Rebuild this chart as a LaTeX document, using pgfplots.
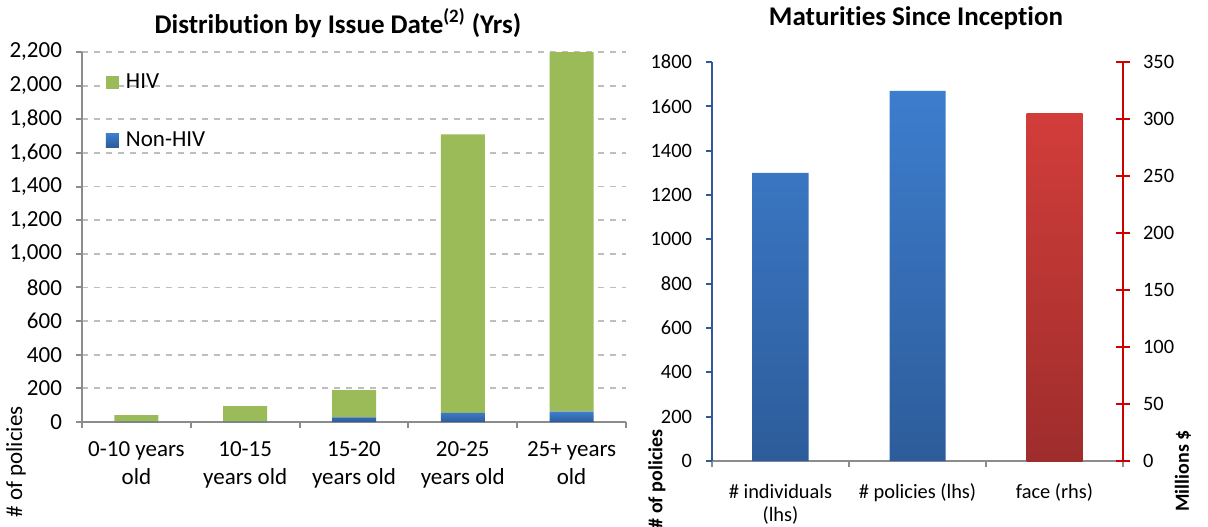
\documentclass[border=0pt]{standalone}
\usepackage{pgfplots}
\pgfplotsset{compat=1.18}
\usepackage{fontspec}
\setmainfont{Carlito}[Ligatures={NoCommon,NoDiscretionary}]
% keep "ti" as two separate letters
\newcommand*\ti{t\kern0pt i}

\definecolor{hivgreen}{HTML}{9BBB59}
\definecolor{blueTop}{HTML}{3D7DCE}
\definecolor{blueBot}{HTML}{2D5C9A}
\definecolor{redTop}{HTML}{D23D3A}
\definecolor{redBot}{HTML}{9E2D2C}
\definecolor{axisgray}{HTML}{8C8C8C}
\definecolor{gridgray}{HTML}{BEBEBE}
\definecolor{lhsblue}{HTML}{2F5A9A}
\definecolor{rhsred}{HTML}{D00000}

\begin{document}
\begin{tikzpicture}
\useasboundingbox (0,0) rectangle (604pt,263pt);

% ---------- Distribution by issue date (stacked) ----------
\begin{axis}[
  at={(41pt,52pt)}, anchor=south west,
  scale only axis, width=272pt, height=185pt,
  ybar stacked, bar width=22pt,
  xmin=-0.5, xmax=4.5, ymin=0, ymax=2200,
  ytick={0,200,...,2200},
  xtick={-0.5,0.5,...,4.5}, xticklabels=\empty,
  extra x ticks={0,1,2,3,4},
  extra x tick labels={0-10 years\\old, 10-15\\years old, 15-20\\years old, 20-25\\years old, 25+ years\\old},
  extra x tick style={major tick length=0pt,
    xticklabel style={align=center, font=\fontsize{11.5}{14}\selectfont, yshift=-6pt}},
  axis lines*=left,
  axis line style={axisgray, line width=1pt},
  tick style={axisgray, line width=1pt},
  tick align=outside, major tick length=3pt,
  ymajorgrids, grid style={gridgray, dashed, line width=0.9pt},
  yticklabel style={font=\fontsize{11.5}{14}\selectfont, xshift=-3.5pt},
  legend cell align=left,
  reverse legend,
  legend style={at={(0.043,0.953)}, anchor=north west, draw=none, fill=none,
    inner sep=0pt, row sep=16pt,
    /tikz/every odd column/.append style={column sep=1.5pt},
    font=\fontsize{11.5}{14}\selectfont},
  legend image code/.code={\path[#1] (0pt,-3.3pt) rectangle (6.6pt,3.3pt);},
  /pgf/number format/1000 sep={,},
  /pgf/number format/assume math mode=true,
]
\addplot[draw=none, top color=blueTop, bottom color=blueBot]
  coordinates {(0,2) (1,3) (2,28) (3,55) (4,61)};
\addplot[draw=none, fill=hivgreen]
  coordinates {(0,39) (1,92) (2,162) (3,1655) (4,2139)};
\legend{Non-HIV, HIV}
\end{axis}

\node[font=\bfseries\fontsize{13.5}{16}\selectfont] at (169pt,251.5pt)
  {Distribu\ti on by Issue Date\textsuperscript{(2)} (Yrs)};
\node[rotate=90, font=\fontsize{11.5}{14}\selectfont] at (8pt,32pt) {\# of policies};

% ---------- Maturities since inception: left scale ----------
\begin{axis}[
  at={(356pt,32.5pt)}, anchor=south west,
  scale only axis, width=205.5pt, height=199.5pt,
  ybar, bar width=28pt,
  xmin=-0.5, xmax=2.5, ymin=0, ymax=1800,
  ytick={0,200,...,1800},
  xtick={-0.5,0.5,...,2.5}, xticklabels=\empty,
  extra x ticks={0,1,2},
  extra x tick labels={\# individuals\\(lhs), \# policies (lhs), face (rhs)},
  extra x tick style={major tick length=0pt,
    xticklabel style={align=center, font=\fontsize{10.2}{11.5}\selectfont, yshift=-8pt}},
  axis x line*=bottom, axis y line*=left,
  x axis line style={axisgray, line width=1pt},
  y axis line style={lhsblue, line width=1pt},
  xtick style={axisgray, line width=1pt},
  ytick style={lhsblue, line width=1pt},
  tick align=outside, major tick length=3pt,
  yticklabel style={font=\fontsize{10.2}{12}\selectfont, xshift=-3.5pt},
  /pgf/number format/1000 sep={},
  /pgf/number format/assume math mode=true,
]
\addplot[draw=none, top color=blueTop, bottom color=blueBot]
  coordinates {(0,1300) (1,1670)};
\end{axis}

% ---------- Maturities since inception: right scale ----------
\begin{axis}[
  at={(356pt,32.5pt)}, anchor=south west,
  scale only axis, width=205.5pt, height=199.5pt,
  ybar, bar width=28pt,
  xmin=-0.5, xmax=2.5, ymin=0, ymax=350,
  ytick={0,50,...,350},
  axis x line=none, axis y line*=right,
  y axis line style={rhsred, line width=1pt},
  ytick style={rhsred, line width=1pt},
  tick align=center, major tick length=7pt,
  yticklabel style={font=\fontsize{10.2}{12}\selectfont, xshift=3pt},
  /pgf/number format/1000 sep={},
  /pgf/number format/assume math mode=true,
]
\addplot[draw=none, top color=redTop, bottom color=redBot]
  coordinates {(2,305)};
\end{axis}

\node[font=\bfseries\fontsize{13.5}{16}\selectfont] at (458pt,254pt)
  {Maturi\ti es Since Incep\ti on};
\node[rotate=90, font=\bfseries\fontsize{10}{12}\selectfont] at (328.5pt,23.5pt) {\# of policies};
\node[rotate=90, font=\bfseries\fontsize{10}{12}\selectfont] at (591.5pt,27.5pt) {Millions \$};

\end{tikzpicture}
\end{document}
